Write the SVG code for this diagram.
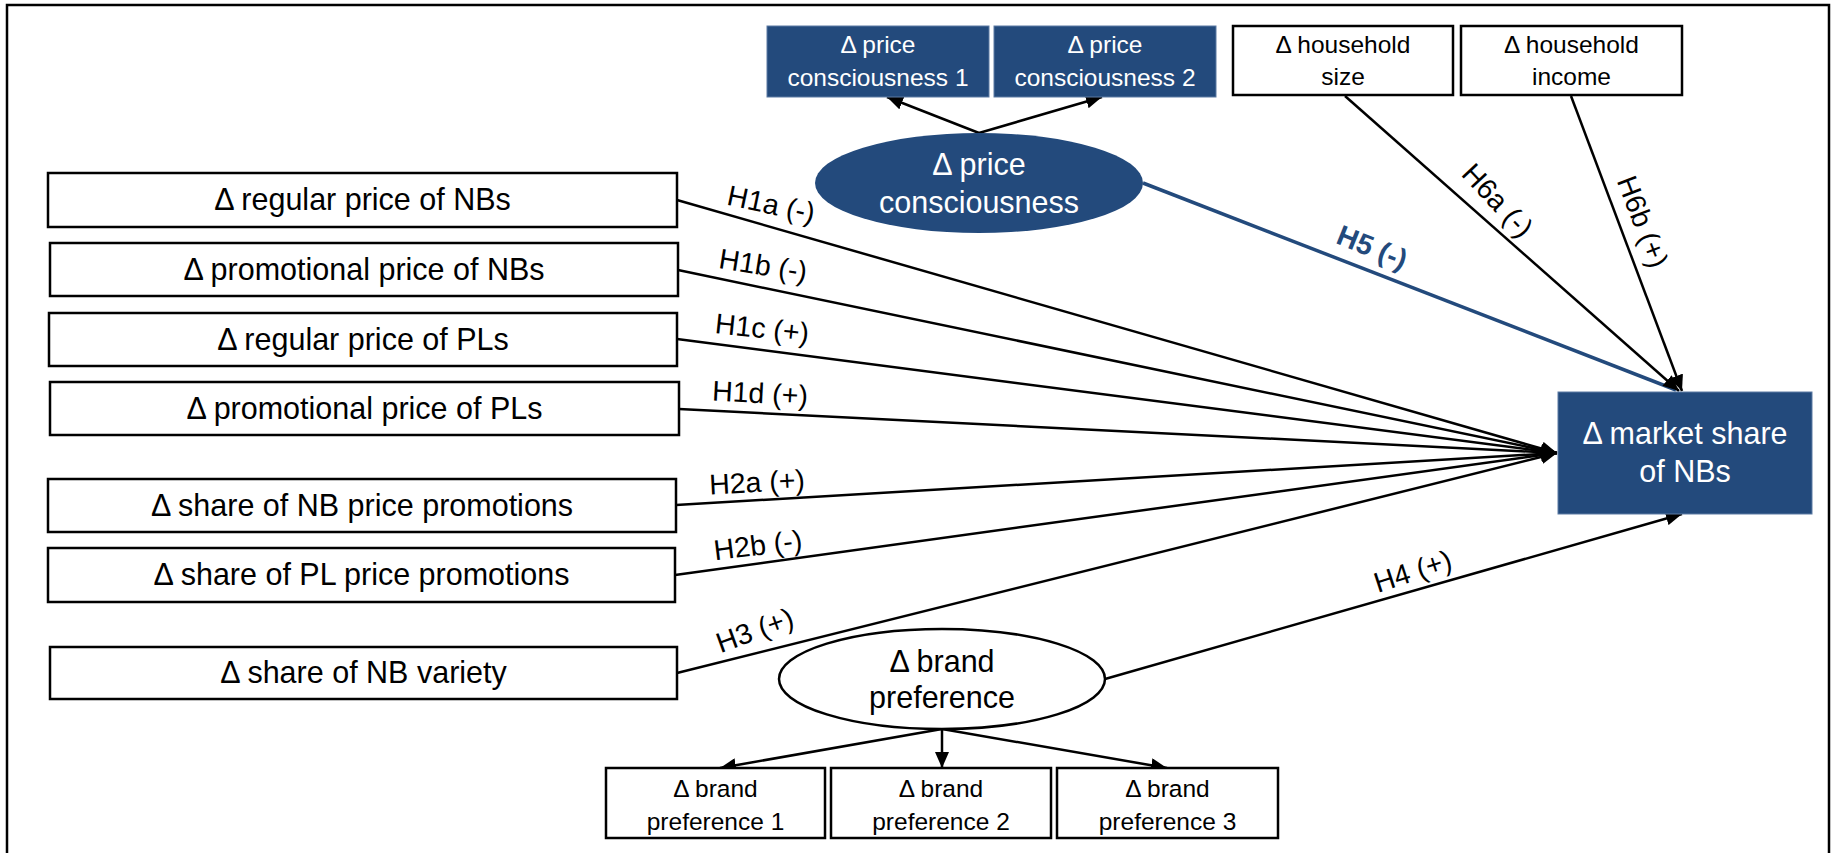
<svg xmlns="http://www.w3.org/2000/svg" width="1835" height="853" viewBox="0 0 1835 853">
<style>
  text { font-family: "Liberation Sans", Arial, sans-serif; }
  .box { fill: #ffffff; stroke: #000000; stroke-width: 2.5; }
  .bluebox { fill: #234a7c; stroke: #5d7ba3; stroke-width: 1; }
  .big { font-size: 30.5px; fill: #000000; text-anchor: middle; }
  .small { font-size: 24.5px; fill: #000000; text-anchor: middle; }
  .white { fill: #ffffff; }
  .conn { stroke: #000000; stroke-width: 2.5; fill: none; }
  .blueconn { stroke: #234a7c; stroke-width: 3.5; fill: none; }
  .lbl { font-size: 28.5px; fill: #000000; text-anchor: middle; }
  .lblb { font-size: 28.5px; font-weight: bold; fill: #234a7c; text-anchor: middle; }
</style>
<defs>
  <marker id="arr" viewBox="0 0 16 14" refX="16" refY="7" markerWidth="16" markerHeight="14" markerUnits="userSpaceOnUse" orient="auto">
    <path d="M0,0 L16,7 L0,14 z" fill="#000000"/>
  </marker>
</defs>
<rect width="1835" height="853" fill="#ffffff"/>
<path d="M7,853 V5 H1829 V853" fill="none" stroke="#000000" stroke-width="2.5"/>

<g id="connectors">
  <line class="conn" x1="677" y1="200" x2="1557" y2="453" marker-end="url(#arr)"/>
  <line class="conn" x1="678" y1="270" x2="1557" y2="453" marker-end="url(#arr)"/>
  <line class="conn" x1="677" y1="339" x2="1557" y2="453" marker-end="url(#arr)"/>
  <line class="conn" x1="679" y1="409" x2="1557" y2="453" marker-end="url(#arr)"/>
  <line class="conn" x1="676" y1="505" x2="1557" y2="453" marker-end="url(#arr)"/>
  <line class="conn" x1="675" y1="575" x2="1557" y2="453" marker-end="url(#arr)"/>
  <line class="conn" x1="677" y1="673" x2="1557" y2="453" marker-end="url(#arr)"/>
  <line class="blueconn" x1="1143" y1="183" x2="1676" y2="390"/>
  <line class="conn" x1="1345" y1="96" x2="1679" y2="391" marker-end="url(#arr)"/>
  <line class="conn" x1="1571" y1="96" x2="1682" y2="391" marker-end="url(#arr)"/>
  <line class="conn" x1="1105" y1="679" x2="1682" y2="514" marker-end="url(#arr)"/>
  <line class="conn" x1="979" y1="133" x2="887" y2="97" marker-end="url(#arr)"/>
  <line class="conn" x1="979" y1="133" x2="1102" y2="97" marker-end="url(#arr)"/>
  <line class="conn" x1="942" y1="729" x2="720" y2="768" marker-end="url(#arr)"/>
  <line class="conn" x1="942" y1="729" x2="942" y2="768" marker-end="url(#arr)"/>
  <line class="conn" x1="942" y1="729" x2="1167" y2="768" marker-end="url(#arr)"/>
  <text class="lbl" transform="translate(771,205) rotate(12)" y="9">H1a (-)</text>
  <text class="lbl" transform="translate(763,266) rotate(9)" y="9">H1b (-)</text>
  <text class="lbl" transform="translate(762,329) rotate(6)" y="9">H1c (+)</text>
  <text class="lbl" transform="translate(760,394) rotate(3)" y="9">H1d (+)</text>
  <text class="lbl" transform="translate(757,483) rotate(-3)" y="9">H2a (+)</text>
  <text class="lbl" transform="translate(758,546) rotate(-7)" y="9">H2b (-)</text>
  <text class="lbl" transform="translate(755,631) rotate(-20)" y="9">H3 (+)</text>
  <text class="lbl" transform="translate(1413,572) rotate(-18)" y="9">H4 (+)</text>
  <text class="lblb" transform="translate(1372,248) rotate(22)" y="9">H5 (-)</text>
  <text class="lbl" transform="translate(1497,201) rotate(47)" y="9">H6a (-)</text>
  <text class="lbl" transform="translate(1642,222) rotate(69)" y="9">H6b (+)</text>
</g>

<g id="n_reg_nb"><rect class="box" x="48" y="173" width="629" height="54"/><text class="big" x="362.5" y="210">Δ regular price of NBs</text></g>
<g id="n_promo_nb"><rect class="box" x="50" y="243" width="628" height="53"/><text class="big" x="364" y="280">Δ promotional price of NBs</text></g>
<g id="n_reg_pl"><rect class="box" x="49" y="313" width="628" height="53"/><text class="big" x="363" y="350">Δ regular price of PLs</text></g>
<g id="n_promo_pl"><rect class="box" x="50" y="382" width="629" height="53"/><text class="big" x="364.5" y="419">Δ promotional price of PLs</text></g>
<g id="n_share_nb_promo"><rect class="box" x="48" y="479" width="628" height="53"/><text class="big" x="362" y="516">Δ share of NB price promotions</text></g>
<g id="n_share_pl_promo"><rect class="box" x="48" y="548" width="627" height="54"/><text class="big" x="361.5" y="585">Δ share of PL price promotions</text></g>
<g id="n_nb_variety"><rect class="box" x="50" y="647" width="627" height="52"/><text class="big" x="363.5" y="683">Δ share of NB variety</text></g>

<g id="n_pc1"><rect class="bluebox" x="767" y="26" width="222" height="71"/><text class="small white" x="878" y="53">Δ price</text><text class="small white" x="878" y="86">consciousness 1</text></g>
<g id="n_pc2"><rect class="bluebox" x="994" y="26" width="222" height="71"/><text class="small white" x="1105" y="53">Δ price</text><text class="small white" x="1105" y="86">consciousness 2</text></g>
<g id="n_pc"><ellipse cx="979" cy="183" rx="164" ry="50" fill="#234a7c"/><text class="big white" x="979" y="175">Δ price</text><text class="big white" x="979" y="213">consciousness</text></g>

<g id="n_hh_size"><rect class="box" x="1233" y="26" width="220" height="69"/><text class="small" x="1343" y="53">Δ household</text><text class="small" x="1343" y="85">size</text></g>
<g id="n_hh_income"><rect class="box" x="1461" y="26" width="221" height="69"/><text class="small" x="1571.5" y="53">Δ household</text><text class="small" x="1571.5" y="85">income</text></g>

<g id="n_market_share"><rect class="bluebox" x="1558" y="392" width="254" height="122"/><text class="big white" x="1685" y="444">Δ market share</text><text class="big white" x="1685" y="482">of NBs</text></g>

<g id="n_bp"><ellipse cx="942" cy="679" rx="163" ry="50" fill="#ffffff" stroke="#000000" stroke-width="2.5"/><text class="big" x="942" y="672">Δ brand</text><text class="big" x="942" y="708">preference</text></g>
<g id="n_bp1"><rect class="box" x="606" y="768" width="219" height="70"/><text class="small" x="715.5" y="797">Δ brand</text><text class="small" x="715.5" y="830">preference 1</text></g>
<g id="n_bp2"><rect class="box" x="831" y="768" width="220" height="70"/><text class="small" x="941" y="797">Δ brand</text><text class="small" x="941" y="830">preference 2</text></g>
<g id="n_bp3"><rect class="box" x="1057" y="768" width="221" height="70"/><text class="small" x="1167.5" y="797">Δ brand</text><text class="small" x="1167.5" y="830">preference 3</text></g>
</svg>
